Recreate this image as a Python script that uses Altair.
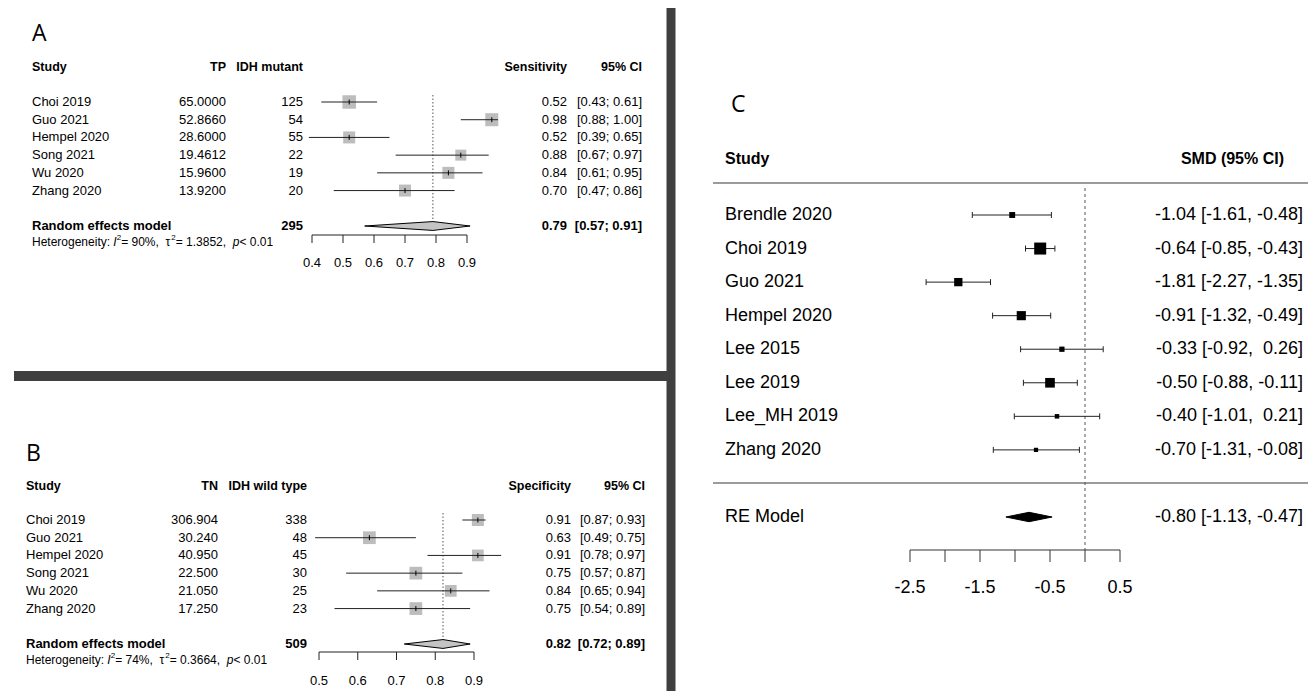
import altair as alt
import pandas as pd

# ---------------- data ----------------
a_study = ["Choi 2019", "Guo 2021", "Hempel 2020", "Song 2021", "Wu 2020", "Zhang 2020"]
a_tp = ["65.0000", "52.8660", "28.6000", "19.4612", "15.9600", "13.9200"]
a_n = [125, 54, 55, 22, 19, 20]
a_est = [0.52, 0.98, 0.52, 0.88, 0.84, 0.70]
a_lo = [0.43, 0.88, 0.39, 0.67, 0.61, 0.47]
a_hi = [0.61, 1.00, 0.65, 0.97, 0.95, 0.86]
a_w = [20.1, 18.7, 15.9, 13.4, 15.9, 15.9]
a_re = [0.79, 0.57, 0.91]
a_total = 295
a_i2 = "90%"
a_tau2 = "1.3852"
a_p = "0.01"
a_ticks = [0.4, 0.5, 0.6, 0.7, 0.8, 0.9]

b_study = ["Choi 2019", "Guo 2021", "Hempel 2020", "Song 2021", "Wu 2020", "Zhang 2020"]
b_tn = ["306.904", "30.240", "40.950", "22.500", "21.050", "17.250"]
b_n = [338, 48, 45, 30, 25, 23]
b_est = [0.91, 0.63, 0.91, 0.75, 0.84, 0.75]
b_lo = [0.87, 0.49, 0.78, 0.57, 0.65, 0.54]
b_hi = [0.93, 0.75, 0.97, 0.87, 0.94, 0.89]
b_w = [16.0, 17.9, 15.2, 17.9, 15.2, 17.9]
b_re = [0.82, 0.72, 0.89]
b_total = 509
b_i2 = "74%"
b_tau2 = "0.3664"
b_p = "0.01"
b_ticks = [0.5, 0.6, 0.7, 0.8, 0.9]

c_study = ["Brendle 2020", "Choi 2019", "Guo 2021", "Hempel 2020", "Lee 2015",
           "Lee 2019", "Lee_MH 2019", "Zhang 2020"]
c_est = [-1.04, -0.64, -1.81, -0.91, -0.33, -0.50, -0.40, -0.70]
c_lo = [-1.61, -0.85, -2.27, -1.32, -0.92, -0.88, -1.01, -1.31]
c_hi = [-0.48, -0.43, -1.35, -0.49, 0.26, -0.11, 0.21, -0.08]
c_w = [11.4, 15.9, 12.8, 13.4, 11.1, 13.8, 10.8, 10.7]
c_re = [-0.80, -1.13, -0.47]
c_ticks = [-2.5, -2.0, -1.5, -1.0, -0.5, 0.0, 0.5]
c_tick_labels = [-2.5, -1.5, -0.5, 0.5]

# ---------------- helpers ----------------
OFF = 8
FONT = "Liberation Sans, Arial, Helvetica, sans-serif"
LFONT = "Open Sans, Lato, sans-serif"
ONE = pd.DataFrame({"k": [0]})
NB = "\u00a0"

# Arial / Liberation Sans advance widths (per 1000 em) used to lay out mixed-style text
AW = {"H": 722, "e": 556, "t": 278, "r": 333, "o": 556, "g": 556, "n": 556, "i": 222,
      "y": 500, ":": 278, " ": 278, "I": 278, "=": 584, "%": 889, ",": 278, ".": 278,
      "p": 556, "<": 584, "τ": 480}


def tw(s, size):
    return sum(AW.get(ch, 556) for ch in s) * size / 1000.0


def px(v):
    return v - OFF


def label(text, x, y, size, align="left", bold=False, font=FONT, italic=False, dy=0):
    return alt.Chart(ONE).mark_text(
        text=text, align=align, baseline="middle", fontSize=size,
        fontWeight="bold" if bold else "normal", font=font, color="black",
        fontStyle="italic" if italic else "normal", dy=dy
    ).encode(x=alt.value(px(x)), y=alt.value(px(y)))


def het_layers(x0, y, i2, tau2, p, size=12):
    sup = 8
    parts = [("Heterogeneity: ", size, False, 0), ("I", size, True, 0), ("2", sup, False, -4),
             (f" = {i2}, ", size, False, 0), ("τ", size, False, 0), ("2", sup, False, -4),
             (f" = {tau2}, ", size, False, 0), ("p", size, True, 0), (f" < {p}", size, False, 0)]
    out = []
    x = x0
    for text, sz, it, dy in parts:
        out.append(label(text.replace(" ", NB), x, y, sz, italic=it, dy=dy))
        x += tw(text, sz)
    return out


def hrule(x1, x2, y, color, width):
    return alt.Chart(ONE).mark_rule(color=color, strokeWidth=width).encode(
        x=alt.value(px(x1)), x2=alt.value(px(x2)), y=alt.value(px(y)))


def vrule(x, y1, y2, color, width):
    return alt.Chart(ONE).mark_rule(color=color, strokeWidth=width).encode(
        x=alt.value(px(x)), y=alt.value(px(y1)), y2=alt.value(px(y2)))


def col_text(df, field, x, ys, size, align, bold=False):
    return alt.Chart(df).mark_text(
        align=align, baseline="middle", fontSize=size, font=FONT,
        fontWeight="bold" if bold else "normal", color="black"
    ).encode(x=alt.value(px(x)),
             y=alt.Y("row:Q", scale=ys, axis=None),
             text=f"{field}:N")


def axis_layers(ticks, labels_at, label_fmt, xs, base, tlen, lab_y, size, color):
    bdf = pd.DataFrame({"a": [ticks[0]], "b": [ticks[-1]]})
    tdf = pd.DataFrame({"t": ticks})
    ldf = pd.DataFrame({"t": labels_at, "lab": [label_fmt(v) for v in labels_at]})
    base_l = alt.Chart(bdf).mark_rule(color=color, strokeWidth=1).encode(
        x=alt.X("a:Q", scale=xs, axis=None), x2="b:Q", y=alt.value(px(base)))
    tick_l = alt.Chart(tdf).mark_rule(color=color, strokeWidth=1).encode(
        x=alt.X("t:Q", scale=xs, axis=None), y=alt.value(px(base)), y2=alt.value(px(base + tlen)))
    lab_l = alt.Chart(ldf).mark_text(fontSize=size, font=FONT, baseline="middle",
                                     align="center", color="black").encode(
        x=alt.X("t:Q", scale=xs, axis=None), y=alt.value(px(lab_y)), text="lab:N")
    return [base_l, tick_l, lab_l]


def diamond(re, row, h, xs, ys, fill):
    est, lo, hi = re
    d = pd.DataFrame({"x": [lo, est, hi], "y1": [row, row - h, row], "y2": [row, row + h, row]})
    return alt.Chart(d).mark_area(color=fill, stroke="black", strokeWidth=1,
                                  orient="vertical", opacity=1).encode(
        x=alt.X("x:Q", scale=xs, axis=None),
        y=alt.Y("y1:Q", scale=ys, axis=None), y2="y2:Q")


VLINE = "M0,-1L0,1"


def meta_panel(letter, lx, ly, study, cnt, n, est, lo, hi, w, re, total, het,
               ticks, tick_px, row_px, cols, hdr_y, hdr, het_y,
               dot_y, axis_y, lab_y):
    xs = alt.Scale(domain=[ticks[0], ticks[-1]], range=[px(tick_px[0]), px(tick_px[1])],
                   nice=False, zero=False)
    ys = alt.Scale(domain=[0, 7], range=[px(row_px[0]), px(row_px[1])], nice=False, zero=False)
    df = pd.DataFrame({
        "row": list(range(len(study))), "study": study, "cnt": cnt,
        "n": [str(v) for v in n], "est": est, "lo": lo, "hi": hi, "w": w,
        "est_t": [f"{v:.2f}" for v in est],
        "ci_t": [f"[{a:.2f}; {b:.2f}]" for a, b in zip(lo, hi)],
    })
    redf = pd.DataFrame({"row": [7], "name": ["Random effects model"], "n": [str(total)],
                         "est_t": [f"{re[0]:.2f}"], "ci_t": [f"[{re[1]:.2f}; {re[2]:.2f}]"]})
    x_name, x_cnt, x_n, x_est, x_ci = cols
    layers = [label(letter, lx, ly, 23, font=LFONT)]
    layers += [
        label(hdr[0], x_name, hdr_y, 12.5, bold=True),
        label(hdr[1], x_cnt, hdr_y, 12.5, align="right", bold=True),
        label(hdr[2], x_n, hdr_y, 12.5, align="right", bold=True),
        label(hdr[3], x_est, hdr_y, 12.5, align="right", bold=True),
        label(hdr[4], x_ci, hdr_y, 12.5, align="right", bold=True),
    ]
    layers.append(alt.Chart(pd.DataFrame({"v": [re[0]]})).mark_rule(
        color="#555555", strokeWidth=1, strokeDash=[1.5, 2]).encode(
        x=alt.X("v:Q", scale=xs, axis=None), y=alt.value(px(dot_y[0])), y2=alt.value(px(dot_y[1]))))
    layers.append(alt.Chart(df).mark_point(shape="square", filled=True, color="#bdbdbd",
                                           opacity=1, strokeWidth=0).encode(
        x=alt.X("est:Q", scale=xs, axis=None), y=alt.Y("row:Q", scale=ys, axis=None),
        size=alt.Size("w:Q", scale=alt.Scale(domain=[0, 20.1], range=[0, 182]), legend=None)))
    layers.append(alt.Chart(df).mark_rule(color="#222222", strokeWidth=1).encode(
        x=alt.X("lo:Q", scale=xs, axis=None), x2="hi:Q", y=alt.Y("row:Q", scale=ys, axis=None)))
    layers.append(alt.Chart(df).mark_point(shape=VLINE, filled=False, color="black", size=25,
                                           strokeWidth=1, opacity=1).encode(
        x=alt.X("est:Q", scale=xs, axis=None), y=alt.Y("row:Q", scale=ys, axis=None)))
    layers.append(diamond(re, 7, 0.25, xs, ys, "#c4c4c4"))
    layers += [
        col_text(df, "study", x_name, ys, 13, "left"),
        col_text(df, "cnt", x_cnt, ys, 13, "right"),
        col_text(df, "n", x_n, ys, 13, "right"),
        col_text(df, "est_t", x_est, ys, 13, "right"),
        col_text(df, "ci_t", x_ci, ys, 13, "right"),
        col_text(redf, "name", x_name, ys, 13, "left", bold=True),
        col_text(redf, "n", x_n, ys, 13, "right", bold=True),
        col_text(redf, "est_t", x_est, ys, 13, "right", bold=True),
        col_text(redf, "ci_t", x_ci, ys, 13, "right", bold=True),
    ]
    layers += het_layers(x_name, het_y, *het)
    layers += axis_layers(ticks, ticks, lambda v: f"{v:.1f}", xs, axis_y, 8, lab_y, 13, "#222222")
    return layers


layers = []

# Panel A
layers += meta_panel("A", 32, 34, a_study, a_tp, a_n, a_est, a_lo, a_hi, a_w, a_re, a_total,
                     (a_i2, a_tau2, a_p),
                     a_ticks, (312, 467), (102, 226), (32, 226, 303, 567, 642), 67,
                     ["Study", "TP", "IDH mutant", "Sensitivity", "95% CI"], 242,
                     (95, 222), 235, 263)
# Panel B
layers += meta_panel("B", 26, 454, b_study, b_tn, b_n, b_est, b_lo, b_hi, b_w, b_re, b_total,
                     (b_i2, b_tau2, b_p),
                     b_ticks, (319, 474), (520, 644), (26, 218, 307, 571, 645), 486,
                     ["Study", "TN", "IDH wild type", "Specificity", "95% CI"], 660,
                     (513, 640), 652, 681)

# Panel C
cxs = alt.Scale(domain=[-2.5, 0.5], range=[px(910), px(1120)], nice=False, zero=False)
cys = alt.Scale(domain=[0, 9], range=[px(215), px(517)], nice=False, zero=False)
cdf = pd.DataFrame({
    "row": list(range(len(c_study))), "study": c_study, "est": c_est, "lo": c_lo, "hi": c_hi,
    "w": c_w,
    "txt": [f"{e:.2f} [{a:.2f},{NB}{b:5.2f}]".replace(" ", NB) for e, a, b in zip(c_est, c_lo, c_hi)],
})
cre = pd.DataFrame({"row": [9], "study": ["RE Model"],
                    "txt": [f"{c_re[0]:.2f} [{c_re[1]:.2f},{NB}{c_re[2]:5.2f}]".replace(" ", NB)]})

layers.append(label("C", 731, 105, 23, font=LFONT))
layers.append(label("Study", 725, 159, 16, bold=True))
layers.append(label("SMD (95% CI)", 1284, 159, 16, align="right", bold=True))
layers.append(hrule(713, 1316, 183, "#7a7a7a", 1.5))
layers.append(hrule(713, 1316, 483, "#7a7a7a", 1.5))
layers.append(alt.Chart(pd.DataFrame({"v": [0.0]})).mark_rule(
    color="#555555", strokeWidth=1, strokeDash=[3, 3]).encode(
    x=alt.X("v:Q", scale=cxs, axis=None), y=alt.value(px(188)), y2=alt.value(px(550))))
layers.append(alt.Chart(cdf).mark_rule(color="#222222", strokeWidth=1).encode(
    x=alt.X("lo:Q", scale=cxs, axis=None), x2="hi:Q", y=alt.Y("row:Q", scale=cys, axis=None)))
for f in ["lo", "hi"]:
    layers.append(alt.Chart(cdf).mark_point(shape=VLINE, filled=False, color="#222222", size=36,
                                            strokeWidth=1, opacity=1).encode(
        x=alt.X(f"{f}:Q", scale=cxs, axis=None), y=alt.Y("row:Q", scale=cys, axis=None)))
layers.append(alt.Chart(cdf).mark_point(shape="square", filled=True, color="black",
                                        opacity=1, strokeWidth=0).encode(
    x=alt.X("est:Q", scale=cxs, axis=None), y=alt.Y("row:Q", scale=cys, axis=None),
    size=alt.Size("w:Q", scale=alt.Scale(domain=[10.7, 15.9], range=[18, 144]), legend=None)))
layers.append(diamond(c_re, 9, 0.14, cxs, cys, "black"))
layers.append(col_text(cdf, "study", 725, cys, 18, "left"))
layers.append(col_text(cdf, "txt", 1303, cys, 18, "right"))
layers.append(col_text(cre, "study", 725, cys, 18, "left"))
layers.append(col_text(cre, "txt", 1303, cys, 18, "right"))
layers += axis_layers(c_ticks, c_tick_labels, lambda v: f"{v:.1f}", cxs, 550, 12, 588, 18, "#333333")

# dividers
layers.append(vrule(671, 7, 699, "#3f3f3f", 9))
layers.append(hrule(14, 671, 376, "#3f3f3f", 10))

chart = alt.layer(*layers).resolve_scale(
    x="independent", y="independent", size="independent"
).properties(
    width=1300, height=683, autosize=alt.AutoSizeParams(type="none"), padding=0,
    background="white"
).configure_view(stroke=None)

chart.save("out.html", embed_options={"renderer": "svg", "actions": False})
